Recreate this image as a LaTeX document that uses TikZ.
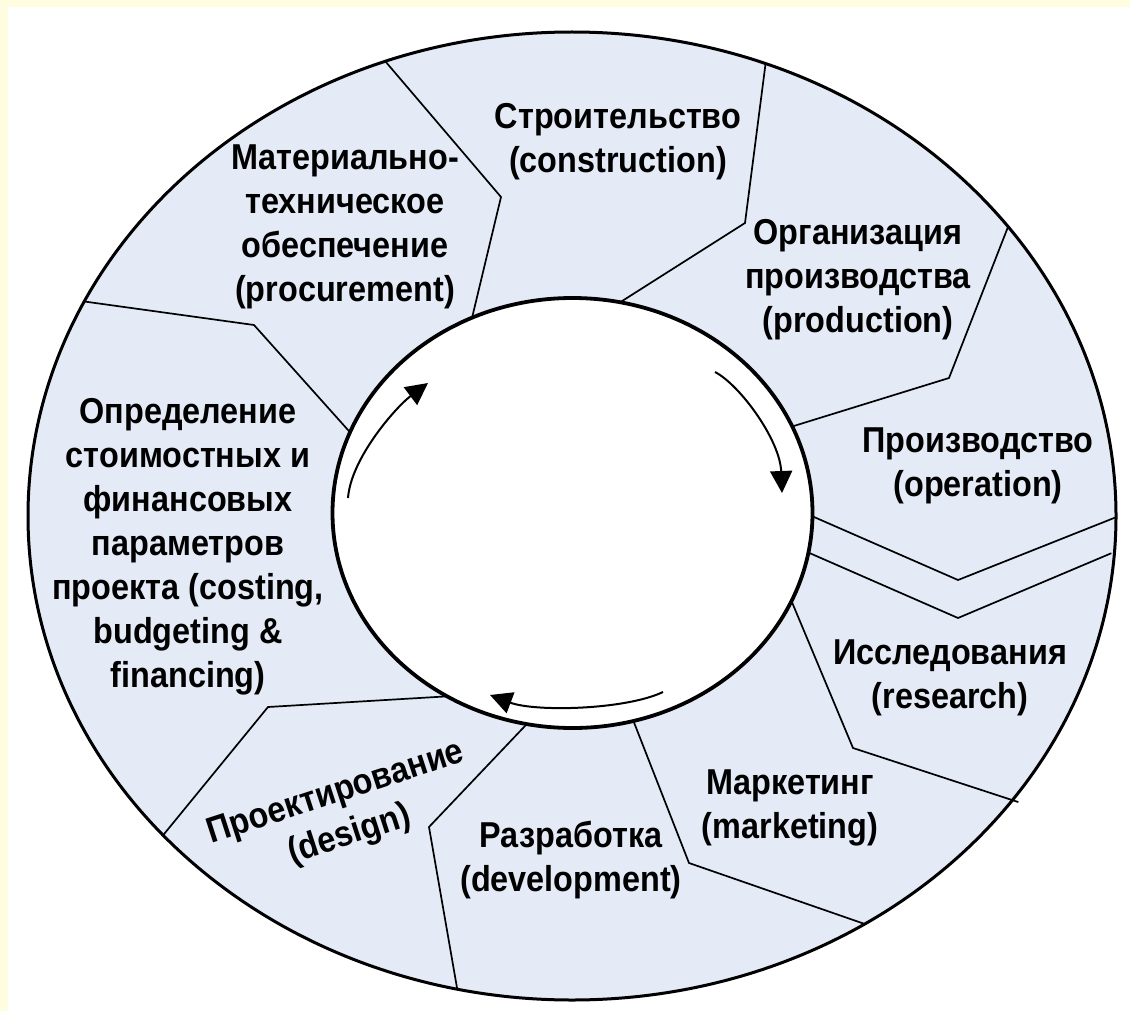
\documentclass[tikz,border=0pt]{standalone}
\usepackage{fontspec}
\setmainfont[FakeStretch=0.9]{Liberation Sans}
\usetikzlibrary{arrows.meta,calc}
\definecolor{ringblue}{RGB}{228,234,246}
\definecolor{paleyellow}{RGB}{255,253,224}
\begin{document}
\begin{tikzpicture}[x=0.5pt,y=-0.5pt,
  lbl/.style={align=center, font=\bfseries\fontsize{18}{22}\selectfont, inner sep=0pt},
  divider/.style={line width=0.85pt, black},
  cyc/.style={line width=1pt, -{Triangle[length=11pt,width=11pt]}}]
\fill[paleyellow] (0,0) rectangle (1130,1011);
\fill[white] (8,7) rectangle (1130,1011);
\useasboundingbox (0,0) rectangle (1130,1011);
% ring
\fill[ringblue] (572,516) ellipse [x radius=544, y radius=484];
% division line points
\coordinate (o1) at (391,68);   \coordinate (b1) at (501,197); \coordinate (i1) at (472,318);
\coordinate (o2) at (88,302);   \coordinate (b2) at (254,325); \coordinate (i2) at (348,430);
\coordinate (o3) at (765,68);   \coordinate (b3) at (745,223); \coordinate (i3) at (619,303);
\coordinate (o4) at (1006,232); \coordinate (b4) at (949,378); \coordinate (i4) at (797,425);
\coordinate (o5) at (1109,520); \coordinate (b5) at (958,580); \coordinate (i5) at (814,517);
\coordinate (o6) at (1100,558); \coordinate (b6) at (958,618); \coordinate (i6) at (814,555);
\coordinate (o7) at (1012,800); \coordinate (b7) at (853,748); \coordinate (i7) at (794,607);
\coordinate (o8) at (859,922);  \coordinate (b8) at (689,863); \coordinate (i8) at (635,725);
\coordinate (o9) at (456,982);  \coordinate (b9) at (429,827); \coordinate (i9) at (524,727);
\coordinate (o10) at (169,828); \coordinate (b10) at (268,707); \coordinate (i10) at (436,697);
\begin{scope}
\clip (572,516) ellipse [x radius=544, y radius=484];
\foreach \k in {1,...,10}{
  \draw[divider] ($(b\k)!1.08!(o\k)$) -- (b\k) -- ($(b\k)!1.1!(i\k)$);
}
\end{scope}
% small overshoot of the research/marketing divider
\draw[divider] (o7) -- ($(b7)!1.04!(o7)$);
% inner circle
\filldraw[fill=white, draw=black, line width=1.9pt] (572.5,513) ellipse [x radius=240, y radius=215];
% outer border
\draw[line width=1.5pt] (572,516) ellipse [x radius=544, y radius=484];
% cycle arrows
\coordinate (a1s) at (348,498); \coordinate (a1e) at (428,383);
\coordinate (a2s) at (715,372); \coordinate (a2e) at (782,493);
\coordinate (a3s) at (663,692); \coordinate (a3e) at (490,695);
\draw[cyc] (a1s) .. controls (351,458) and (396,407) .. (a1e);
\draw[cyc] (a2s) .. controls (740,385) and (780,440) .. (a2e);
\draw[cyc] (a3s) .. controls (625,710) and (535,712) .. (a3e);
% labels
\node[lbl] (proc) at (345,227) {Материально-\\техническое\\обеспечение\\(procurement)};
\node[lbl] (constr) at (618,142) {Строительство\\(construction)};
\node[lbl] (prod) at (858,280) {Организация\\производства\\(production)};
\node[lbl] (oper) at (978,466) {Производство\\(operation)};
\node[lbl] (res) at (950,678) {Исследования\\(research)};
\node[lbl] (mark) at (790,808) {Маркетинг\\(marketing)};
\node[lbl] (dev) at (571,860) {Разработка\\(development)};
\node[lbl, rotate=18] (des) at (343,815) {Проектирование\\(design)};
\node[lbl] (cost) at (188,547) {Определение\\стоимостных и\\финансовых\\параметров\\проекта (costing,\\budgeting \&\\financing)};
\end{tikzpicture}
\end{document}
